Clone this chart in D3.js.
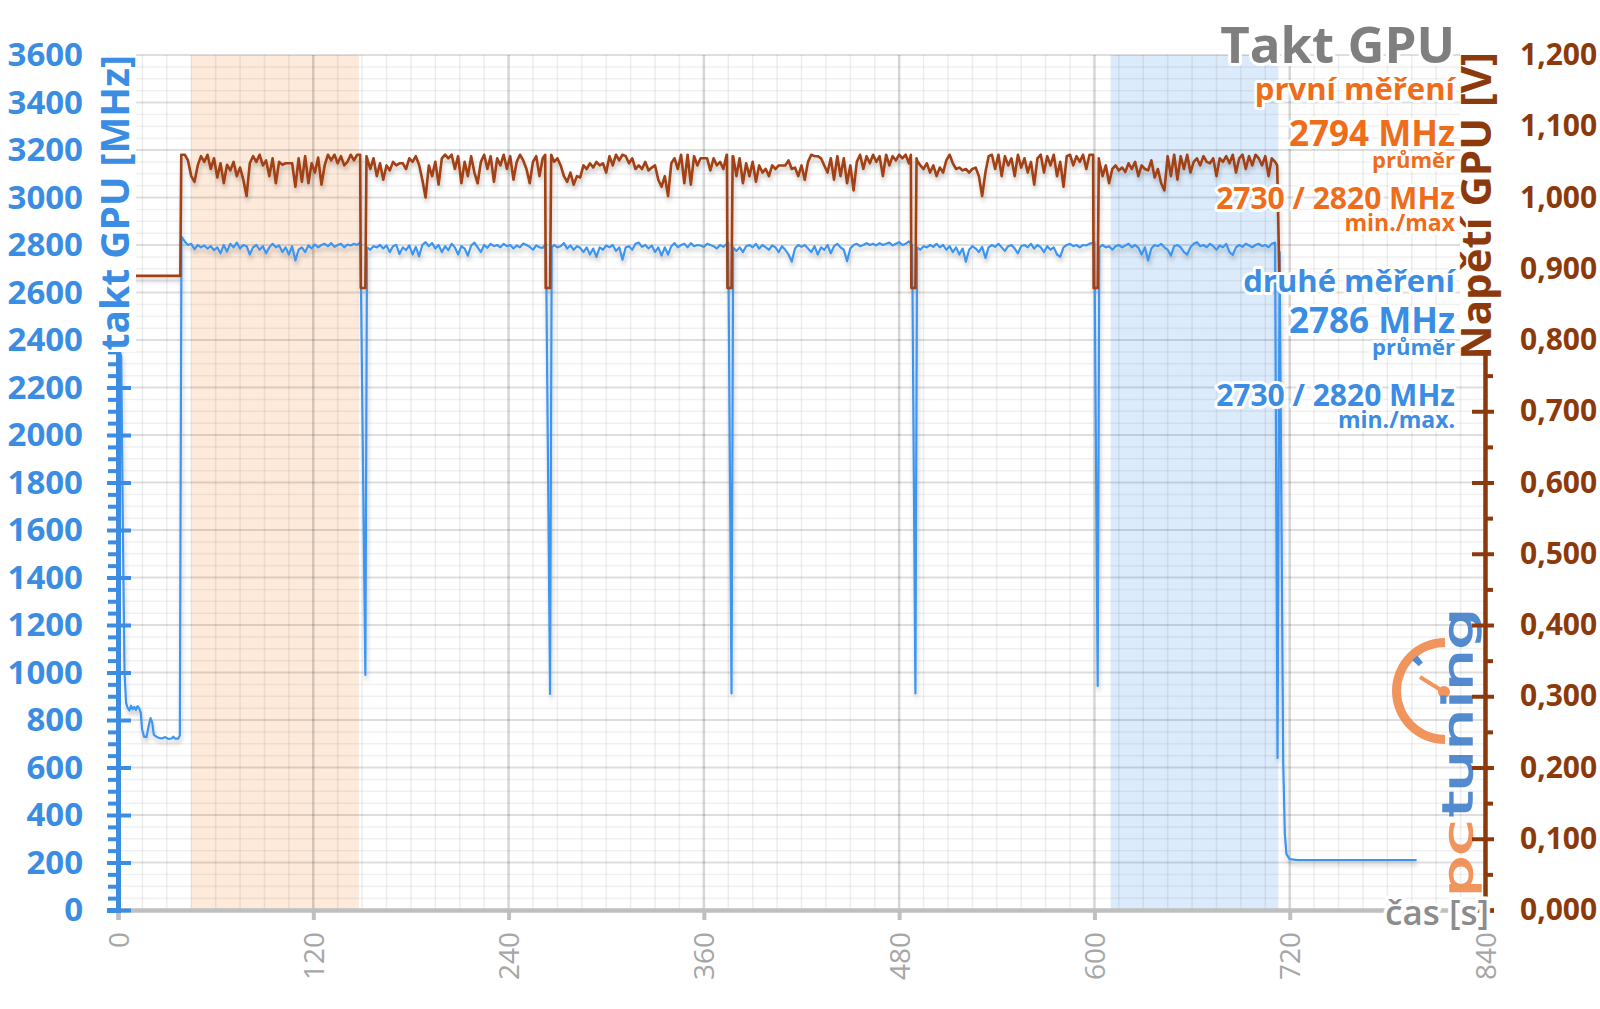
<!DOCTYPE html>
<html><head><meta charset="utf-8">
<script src="https://cdn.jsdelivr.net/npm/d3@7"></script>
<style>
body{margin:0;background:#fff;}
svg text{font-family:'Open Sans',sans-serif;}
</style></head>
<body><svg id="c" width="1600" height="1009"></svg>
<script>
// ---------- DATA ----------
const xTicks = [0,120,240,360,480,600,720,840];
const leftTicks = [0,200,400,600,800,1000,1200,1400,1600,1800,2000,2200,2400,2600,2800,3000,3200,3400,3600];
const rightTicks = [0,0.1,0.2,0.3,0.4,0.5,0.6,0.7,0.8,0.9,1.0,1.1,1.2];
const firstRange = [45,148];
const secondRange = [610,713];

// GPU clock [MHz] (blue)  [time s, MHz]
const clockIdle = [[0,2380],[2,2330],[3,1600],[4,1000],[5,870],[6,850],[7,840],[8,860],[9,845],[10,855],[11,842],[12,858],[13,850],[14,830],[14.8,760],[16,730],[17.5,728],[19,780],[20,808],[21,790],[22,738],[23.5,730],[25,725],[27,722],[29,728],[31,720],[33,722],[34,730],[35,722],[37,722],[38,735]];
const clockRun1 = [[39,2835],[41,2815],[43,2800],[45,2805],[47,2782],[49,2800],[51,2790],[53,2798],[55,2785],[57,2795],[59,2778],[61,2790],[63,2765],[65,2800],[67,2772],[69,2805],[71,2790],[73,2810],[75,2785],[77,2800],[79,2795],[81,2760],[83,2790],[85,2800],[87,2780],[89,2795],[91,2765],[93,2790],[95,2805],[97,2790],[99,2798],[101,2770],[103,2790],[105,2760],[107,2795],[109,2735],[111,2780],[113,2790],[115,2770],[117,2798],[119,2785],[121,2802],[123,2790],[125,2800],[127,2805],[129,2795],[131,2808],[133,2792],[135,2800],[137,2805],[139,2790],[141,2802],[143,2798],[145,2805],[147,2800],[149,2812]];
const clockRun2 = [[153,2790],[155,2780],[157,2795],[159,2790],[161,2800],[163,2785],[165,2798],[167,2770],[169,2795],[171,2800],[173,2762],[175,2790],[177,2778],[179,2798],[181,2760],[183,2792],[185,2752],[187,2800],[189,2812],[191,2795],[193,2808],[195,2785],[197,2800],[199,2770],[201,2795],[203,2778],[205,2805],[207,2790],[209,2760],[211,2795],[213,2785],[215,2755],[217,2798],[219,2810],[221,2790],[223,2770],[225,2800],[227,2788],[229,2805],[231,2795],[233,2800],[235,2790],[237,2805],[239,2795],[241,2800],[243,2785],[245,2798],[247,2790],[249,2806],[251,2800],[253,2792],[255,2780],[257,2798],[259,2790],[261,2788],[263,2805]];
const clockRun3 = [[266.5,2790],[268,2800],[270,2790],[272,2795],[274,2808],[276,2785],[278,2798],[280,2780],[282,2795],[284,2788],[286,2770],[288,2790],[290,2760],[292,2785],[294,2750],[296,2790],[298,2780],[300,2798],[302,2790],[304,2800],[306,2775],[308,2790],[310,2738],[312,2790],[314,2795],[316,2780],[318,2805],[320,2810],[322,2792],[324,2800],[326,2785],[328,2798],[330,2770],[332,2790],[334,2755],[336,2790],[338,2760],[340,2795],[342,2808],[344,2790],[346,2800],[348,2805],[350,2790],[352,2808],[354,2795],[356,2800],[358,2798],[360,2792],[362,2805],[364,2800],[366,2795],[368,2785],[370,2800],[372,2792],[375,2810]];
const clockRun4 = [[378,2790],[380,2775],[382,2790],[384,2770],[386,2795],[388,2800],[390,2790],[392,2805],[394,2785],[396,2800],[398,2790],[400,2780],[402,2798],[404,2790],[406,2770],[408,2795],[410,2780],[412,2760],[414,2730],[416,2785],[418,2800],[420,2792],[422,2800],[424,2785],[426,2770],[428,2795],[430,2760],[432,2790],[434,2780],[436,2800],[438,2765],[440,2795],[442,2805],[444,2790],[446,2780],[448,2732],[450,2785],[452,2800],[454,2805],[456,2795],[458,2800],[460,2808],[462,2800],[464,2805],[466,2798],[468,2808],[470,2800],[472,2805],[474,2810],[476,2798],[478,2805],[480,2812],[482,2800],[484,2805],[486,2815],[488,2800]];
const clockRun5 = [[491,2790],[493,2780],[495,2795],[497,2790],[499,2800],[501,2792],[503,2805],[505,2790],[507,2800],[509,2780],[511,2795],[513,2770],[515,2790],[517,2760],[519,2785],[521,2730],[523,2780],[525,2795],[527,2785],[529,2770],[531,2792],[533,2745],[535,2790],[537,2800],[539,2792],[541,2805],[543,2790],[545,2775],[547,2795],[549,2800],[551,2785],[553,2765],[555,2795],[557,2800],[559,2790],[561,2805],[563,2785],[565,2800],[567,2790],[569,2770],[571,2795],[573,2780],[575,2790],[577,2760],[579,2750],[581,2790],[583,2800],[585,2805],[587,2795],[589,2800],[591,2790],[593,2800],[595,2798],[597,2805],[600,2812]];
const clockRun6 = [[603,2790],[605,2800],[607,2790],[609,2795],[611,2780],[613,2795],[615,2800],[617,2790],[619,2798],[621,2805],[623,2790],[625,2800],[627,2788],[629,2760],[631,2790],[633,2735],[635,2785],[637,2800],[639,2795],[641,2805],[643,2790],[645,2780],[647,2755],[649,2795],[651,2800],[653,2790],[655,2770],[657,2760],[659,2790],[661,2805],[663,2812],[665,2795],[667,2800],[669,2790],[671,2805],[673,2795],[675,2780],[677,2798],[679,2790],[681,2805],[683,2770],[685,2758],[687,2790],[689,2800],[691,2792],[693,2805],[695,2798],[697,2790],[699,2800],[701,2805],[703,2795],[705,2800],[707,2790],[709,2805],[711,2810]];
const clockDips = [[152,990],[265.5,910],[377,912],[490,912],[602,943]];
const clockEnd = [[712.5,640],[713.8,2770],[716,620],[717,320],[718,235],[720,214],[725,210],[798,210]];

// GPU voltage [V] (brown)  [time s, V]
const voltIdle = [[0,0.89],[38.3,0.89],[38.9,1.06]];
const voltRun1 = [[41,1.06],[43,1.052],[45,1.03],[47,1.022],[49,1.045],[51,1.058],[53,1.05],[55,1.06],[57,1.04],[59,1.055],[61,1.028],[63,1.048],[65,1.02],[67,1.046],[69,1.038],[71,1.05],[73,1.03],[75,1.042],[77,1.025],[79,1.002],[81,1.048],[83,1.058],[85,1.05],[87,1.06],[89,1.045],[91,1.052],[93,1.03],[95,1.055],[97,1.02],[99,1.05],[101,1.046],[103,1.048],[105,1.048],[107,1.048],[109,1.015],[111,1.055],[113,1.022],[115,1.058],[117,1.02],[119,1.048],[121,1.035],[123,1.056],[125,1.018],[127,1.045],[129,1.06],[131,1.052],[133,1.06],[135,1.048],[137,1.058],[139,1.045],[141,1.05],[143,1.06],[145,1.052],[147,1.06]];
const voltRun2 = [[155,1.04],[157,1.055],[159,1.03],[161,1.048],[163,1.025],[165,1.045],[167,1.038],[169,1.05],[171,1.045],[173,1.048],[175,1.048],[177,1.04],[179,1.055],[181,1.05],[183,1.058],[185,1.046],[187,1.025],[189,1.0],[191,1.045],[193,1.03],[195,1.05],[197,1.018],[199,1.055],[201,1.06],[203,1.055],[205,1.06],[207,1.04],[209,1.058],[211,1.02],[213,1.05],[215,1.03],[217,1.058],[219,1.035],[221,1.02],[223,1.05],[225,1.06],[227,1.04],[229,1.058],[231,1.022],[233,1.055],[235,1.045],[237,1.06],[239,1.04],[241,1.058],[243,1.025],[245,1.05],[247,1.06],[249,1.052],[251,1.04],[253,1.02],[255,1.05],[257,1.058],[259,1.03],[261,1.055]];
const voltRun3 = [[268,1.05],[270,1.055],[272,1.045],[274,1.03],[276,1.022],[278,1.035],[280,1.018],[282,1.03],[284,1.028],[286,1.045],[288,1.04],[290,1.048],[292,1.042],[294,1.05],[296,1.045],[298,1.048],[300,1.035],[302,1.058],[304,1.045],[306,1.06],[308,1.052],[310,1.06],[312,1.058],[314,1.048],[316,1.055],[318,1.04],[320,1.045],[322,1.04],[324,1.05],[326,1.038],[328,1.042],[330,1.045],[332,1.025],[334,1.015],[336,1.03],[338,1.002],[340,1.048],[342,1.055],[344,1.04],[346,1.06],[348,1.02],[350,1.06],[352,1.018],[354,1.058],[356,1.045],[358,1.055],[360,1.055],[362,1.055],[364,1.038],[366,1.055],[368,1.045],[370,1.05],[372,1.04],[374,1.06]];
const voltRun4 = [[378,1.058],[380,1.03],[382,1.055],[384,1.02],[386,1.048],[388,1.03],[390,1.05],[392,1.022],[394,1.045],[396,1.035],[398,1.04],[400,1.03],[402,1.045],[404,1.04],[406,1.045],[408,1.045],[410,1.045],[412,1.052],[414,1.04],[416,1.042],[418,1.03],[420,1.045],[422,1.025],[424,1.05],[426,1.06],[428,1.058],[430,1.058],[432,1.055],[434,1.045],[436,1.035],[438,1.055],[440,1.025],[442,1.058],[444,1.03],[446,1.055],[448,1.02],[450,1.045],[452,1.01],[454,1.05],[456,1.06],[458,1.04],[460,1.058],[462,1.048],[464,1.06],[466,1.05],[468,1.058],[470,1.03],[472,1.06],[474,1.045],[476,1.058],[478,1.052],[480,1.06],[482,1.055],[484,1.06],[486,1.048]];
const voltRun5 = [[491,1.052],[493,1.045],[495,1.04],[497,1.048],[499,1.035],[501,1.045],[503,1.03],[505,1.042],[507,1.035],[509,1.052],[511,1.06],[513,1.048],[515,1.04],[517,1.042],[519,1.038],[521,1.04],[523,1.035],[525,1.04],[527,1.042],[529,1.03],[531,1.002],[533,1.035],[535,1.058],[537,1.06],[539,1.04],[541,1.06],[543,1.03],[545,1.058],[547,1.045],[549,1.055],[551,1.03],[553,1.06],[555,1.042],[557,1.055],[559,1.035],[561,1.05],[563,1.018],[565,1.055],[567,1.06],[569,1.035],[571,1.058],[573,1.045],[575,1.06],[577,1.03],[579,1.05],[581,1.015],[583,1.058],[585,1.06],[587,1.045],[589,1.058],[591,1.05],[593,1.06],[595,1.04],[597,1.06],[599,1.06]];
const voltRun6 = [[603,1.05],[605,1.03],[607,1.045],[609,1.02],[611,1.04],[613,1.045],[615,1.038],[617,1.042],[619,1.036],[621,1.048],[623,1.04],[625,1.05],[627,1.03],[629,1.045],[631,1.04],[633,1.038],[635,1.052],[637,1.028],[639,1.04],[641,1.02],[643,1.01],[645,1.058],[647,1.03],[649,1.06],[651,1.025],[653,1.058],[655,1.04],[657,1.06],[659,1.035],[661,1.05],[663,1.055],[665,1.045],[667,1.058],[669,1.05],[671,1.048],[673,1.055],[675,1.03],[677,1.055],[679,1.05],[681,1.058],[683,1.048],[685,1.06],[687,1.035],[689,1.055],[691,1.06],[693,1.04],[695,1.058],[697,1.045],[699,1.06],[701,1.055],[703,1.045],[705,1.058],[707,1.03],[709,1.055],[711,1.05]];
const voltDips = [[148.8,1.06],[149.2,0.873],[152,0.873],[152.7,1.058],[262.5,1.06],[262.8,0.873],[265.5,0.873],[266.2,1.06],[374.2,1.06],[374.5,0.873],[377,0.873],[377.7,1.058],[487.2,1.06],[487.5,0.873],[490,0.873],[490.7,1.055],[599.2,1.06],[599.5,0.873],[602,0.873],[602.7,1.055]];
const voltEnd = [[712.3,1.045],[713.8,0.87]];

const legendLines = [
  {text:"Takt GPU", size:51, y:63, color:"#7f7f7f"},
  {text:"první měření", size:31, y:100, color:"#ef6c1a"},
  {text:"2794 MHz", size:35, y:146, color:"#ef6c1a"},
  {text:"průměr", size:22, y:168, color:"#ef6c1a"},
  {text:"2730 / 2820 MHz", size:30, y:209, color:"#ef6c1a"},
  {text:"min./max", size:23, y:231, color:"#ef6c1a"},
  {text:"druhé měření", size:31, y:292, color:"#3a8de3"},
  {text:"2786 MHz", size:35, y:333, color:"#3a8de3"},
  {text:"průměr", size:22, y:355, color:"#3a8de3"},
  {text:"2730 / 2820 MHz", size:30, y:406, color:"#3a8de3"},
  {text:"min./max.", size:23, y:428, color:"#3a8de3"}
];

// ---------- CHART ----------
const BLUE = "#3a8de3", BLUE_LINE = "#3d95f0", BROWN = "#8c3a0c", BROWN_LINE = "#a23f12";
const svg = d3.select("#c");
const x = d3.scaleLinear().domain([0,840]).range([118,1485]);
const yL = d3.scaleLinear().domain([0,3600]).range([910,55]);
const yR = d3.scaleLinear().domain([0,1.2]).range([910,55]);

const defs = svg.append("defs");
const f = defs.append("filter").attr("id","sh").attr("x","-5%").attr("y","-5%").attr("width","110%").attr("height","120%");
f.append("feDropShadow").attr("dx",1).attr("dy",4).attr("stdDeviation",2).attr("flood-color","#000").attr("flood-opacity",0.22);

// shaded ranges
svg.append("rect").attr("x",x(firstRange[0])).attr("width",x(firstRange[1])-x(firstRange[0]))
  .attr("y",yL(3600)).attr("height",yL(0)-yL(3600)).attr("fill","#fdeadb");
svg.append("rect").attr("x",x(secondRange[0])).attr("width",x(secondRange[1])-x(secondRange[0]))
  .attr("y",yL(3600)).attr("height",yL(0)-yL(3600)).attr("fill","#dcebfb");

// grid
const grid = svg.append("g");
const minorX = d3.range(0,841,15).filter(v=>v%120!==0);
const minorY = d3.range(0,3601,50).filter(v=>v%200!==0);
grid.selectAll(".mx").data(minorX).join("line").attr("x1",d=>x(d)).attr("x2",d=>x(d)).attr("y1",yL(3600)).attr("y2",yL(0))
  .attr("stroke","rgba(0,0,0,0.07)").attr("stroke-width",1.5);
grid.selectAll(".my").data(minorY).join("line").attr("y1",d=>yL(d)).attr("y2",d=>yL(d)).attr("x1",x(0)).attr("x2",x(840))
  .attr("stroke","rgba(0,0,0,0.06)").attr("stroke-width",1.5);
grid.selectAll(".My").data(leftTicks).join("line").attr("y1",d=>yL(d)).attr("y2",d=>yL(d)).attr("x1",x(0)).attr("x2",x(840))
  .attr("stroke","rgba(0,0,0,0.13)").attr("stroke-width",2);
grid.selectAll(".Mx").data(xTicks).join("line").attr("x1",d=>x(d)).attr("x2",d=>x(d)).attr("y1",yL(3600)).attr("y2",yL(0))
  .attr("stroke","rgba(0,0,0,0.16)").attr("stroke-width",2.5);

// logo
const logo = svg.append("g").attr("opacity",0.88);
const arc = d3.arc();
logo.append("path").attr("transform","translate(1445,691)")
  .attr("d",arc({innerRadius:44,outerRadius:53,startAngle:Math.PI,endAngle:2*Math.PI})).attr("fill","#f0874a");
logo.append("path").attr("transform","translate(1445,691)")
  .attr("d",arc({innerRadius:36,outerRadius:45,startAngle:1.74*Math.PI,endAngle:1.79*Math.PI})).attr("fill","#3d7cc9");
logo.append("line").attr("x1",1420).attr("y1",677).attr("x2",1444).attr("y2",692).attr("stroke","#f0874a").attr("stroke-width",4);
logo.append("circle").attr("cx",1444).attr("cy",692).attr("r",6).attr("fill","#f0874a");
const lt = logo.append("g").attr("transform","translate(1472,897) rotate(-90)");
lt.append("text").attr("x",0).attr("y",0).attr("textLength",77).attr("lengthAdjust","spacingAndGlyphs")
  .style("font-family","'DejaVu Sans'").style("font-size","40px").attr("fill","#f0874a")
  .attr("stroke","#f0874a").attr("stroke-width",1.5).text("pc");
lt.append("text").attr("x",80).attr("y",0).attr("textLength",209).attr("lengthAdjust","spacingAndGlyphs")
  .style("font-family","'DejaVu Sans'").style("font-size","40px").attr("fill","#3d7cc9")
  .attr("stroke","#3d7cc9").attr("stroke-width",1.5).text("tuning");

// lines
const sortT = a => a.slice().sort((p,q)=>p[0]-q[0]);
const clockData = sortT([].concat(clockIdle,clockRun1,clockRun2,clockRun3,clockRun4,clockRun5,clockRun6,clockDips,clockEnd));
const voltData = sortT([].concat(voltIdle,voltRun1,voltRun2,voltRun3,voltRun4,voltRun5,voltRun6,voltDips,voltEnd));
const lines = svg.append("g").attr("filter","url(#sh)");
lines.append("path").attr("d",d3.line().x(d=>x(d[0])).y(d=>yL(d[1]))(clockData))
  .attr("fill","none").attr("stroke",BLUE_LINE).attr("stroke-width",2.2).attr("stroke-linejoin","round");
lines.append("path").attr("d",d3.line().x(d=>x(d[0])).y(d=>yR(d[1]))(voltData))
  .attr("fill","none").attr("stroke",BROWN_LINE).attr("stroke-width",2.6).attr("stroke-linejoin","round");

// x axis
const xa = svg.append("g").attr("transform",`translate(0,${yL(0)})`)
  .call(d3.axisBottom(x).tickValues(xTicks).tickSize(10).tickFormat(d3.format("d")));
xa.select(".domain").attr("stroke","#bfbfbf").attr("stroke-width",4.5);
xa.selectAll(".tick line").attr("stroke","#bfbfbf").attr("stroke-width",4);
xa.selectAll(".tick text").attr("transform","rotate(-90)").attr("x",-22).attr("y",0).attr("dy","0.36em")
  .attr("text-anchor","end").attr("fill","#a6a6a6").style("font-size","28px").style("font-family","'Open Sans',sans-serif");

// left axis
const laMinor = svg.append("g").attr("transform",`translate(${x(0)},0)`)
  .call(d3.axisLeft(yL).tickValues(minorY).tickSize(10).tickFormat(""));
laMinor.select(".domain").remove();
laMinor.selectAll(".tick line").attr("stroke",BLUE).attr("stroke-width",4);
const la = svg.append("g").attr("transform",`translate(${x(0)},0)`)
  .call(d3.axisLeft(yL).tickValues(leftTicks).tickSize(11).tickPadding(24).tickFormat(d3.format("d")));
la.select(".domain").attr("stroke",BLUE).attr("stroke-width",5);
la.selectAll(".tick line").attr("x2",-11).attr("x1",13).attr("stroke",BLUE).attr("stroke-width",4);
la.selectAll(".tick text").attr("fill",BLUE).style("font-size","33px").style("font-weight","bold").style("font-family","'Open Sans',sans-serif");

// right axis
const rMinor = rightTicks.slice(0,-1).map(v=>v+0.05);
const raMinor = svg.append("g").attr("transform",`translate(${x(840)},0)`)
  .call(d3.axisRight(yR).tickValues(rMinor).tickSize(8).tickFormat(""));
raMinor.select(".domain").remove();
raMinor.selectAll(".tick line").attr("stroke",BROWN).attr("stroke-width",4);
const ra = svg.append("g").attr("transform",`translate(${x(840)},0)`)
  .call(d3.axisRight(yR).tickValues(rightTicks).tickSize(9).tickPadding(26).tickFormat(v=>v.toFixed(3).replace(".",",")));
ra.select(".domain").attr("stroke",BROWN).attr("stroke-width",4.5);
ra.selectAll(".tick line").attr("x1",-13).attr("x2",9).attr("stroke",BROWN).attr("stroke-width",4);
ra.selectAll(".tick text").attr("fill",BROWN).style("font-size","30px").style("font-weight","bold").style("font-family","'Open Sans',sans-serif");

// axis titles (white boxes behind)
svg.append("rect").attr("x",96).attr("y",50).attr("width",40).attr("height",302).attr("fill","#fff");
svg.append("text").attr("transform","translate(129,55) rotate(-90)").attr("text-anchor","end")
  .attr("fill",BLUE).style("font-size","39px").style("font-weight","bold").text("takt GPU [MHz]");
svg.append("rect").attr("x",1460).attr("y",48).attr("width",42).attr("height",306).attr("fill","#fff");
svg.append("text").attr("transform","translate(1491,52) rotate(-90)").attr("text-anchor","end")
  .attr("fill",BROWN).style("font-size","42px").style("font-weight","bold").text("Napětí GPU [V]");

// x axis title
svg.append("text").attr("x",1489).attr("y",925).attr("text-anchor","end")
  .attr("fill","#8c8c8c").attr("stroke","#fff").attr("stroke-width",7).attr("stroke-linejoin","round").attr("paint-order","stroke")
  .style("font-size","35px").style("font-weight","600").text("čas [s]");

// legend
svg.append("g").selectAll("text").data(legendLines).join("text")
  .attr("x",1455).attr("y",d=>d.y).attr("text-anchor","end")
  .attr("fill",d=>d.color).attr("stroke","#fff").attr("stroke-width",6).attr("stroke-linejoin","round").attr("paint-order","stroke")
  .style("font-size",d=>d.size+"px").style("font-weight","bold").text(d=>d.text);
</script>
</body></html>
